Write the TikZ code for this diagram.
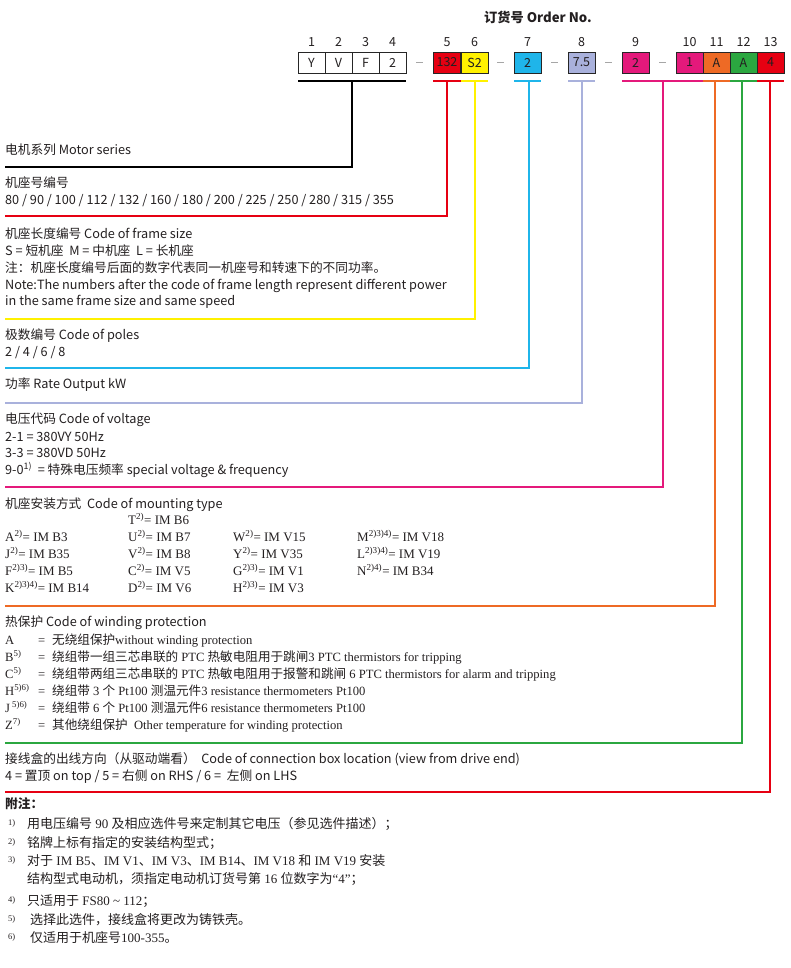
\documentclass[tikz,border=0pt]{standalone}
\usepackage{fontspec}
\setmainfont{Liberation Serif}
\newfontfamily\cjk{Noto Sans CJK SC}
\definecolor{cred}{HTML}{E60012}
\definecolor{cyel}{HTML}{FFF100}
\definecolor{cblue}{HTML}{1FB5EA}
\definecolor{clav}{HTML}{A9B1DC}
\definecolor{cpink}{HTML}{E4197B}
\definecolor{corange}{HTML}{EE6A25}
\definecolor{cgreen}{HTML}{2BA740}
\definecolor{ctext}{HTML}{231F20}
\newcommand{\sps}[1]{\textsuperscript{#1}}
\begin{document}
\begin{tikzpicture}[x=1pt,y=-1pt,
  txt/.style={anchor=mid west, inner sep=0pt, text=ctext, font=\cjk\fontsize{12.7}{14}\selectfont},
  ser/.style={anchor=mid west, inner sep=0pt, text=ctext, font=\fontsize{13}{15}\selectfont},
  wser/.style={anchor=mid west, inner sep=0pt, text=ctext, font=\fontsize{12.6}{15}\selectfont},
  cell/.style={draw=black!85, line width=0.9pt, minimum width=27pt, minimum height=21pt, inner sep=0pt, text=ctext, font=\cjk\fontsize{12.5}{14}\selectfont},
  num/.style={inner sep=0pt, text=ctext, font=\cjk\fontsize{12.5}{14}\selectfont},
  lead/.style={line width=1.8pt, line join=miter},
  gap/.style={draw=black!35, line width=0.8pt},
  notenum/.style={anchor=mid west, inner sep=0pt, text=ctext, font=\fontsize{8.5}{9}\selectfont},
]
\useasboundingbox (0,0) rectangle (790,968);

% title
\node[font=\cjk\bfseries\fontsize{13.2}{15}\selectfont, text=ctext, inner sep=0pt] (title) at (538,17) {订货号 Order No.};

% cells
\node[cell] (c1) at (311.5,62.5) {Y};
\node[cell] (c2) at (338.5,62.5) {V};
\node[cell] (c3) at (365.5,62.5) {F};
\node[cell] (c4) at (392.5,62.5) {2};
\node[cell, fill=cred] (c5) at (447,62.5) {132};
\node[cell, fill=cyel] (c6) at (474.5,62.5) {S2};
\node[cell, fill=cblue] (c7) at (527.5,62.5) {2};
\node[cell, fill=clav] (c8) at (581.5,62.5) {7.5};
\node[cell, fill=cpink] (c9) at (635.5,62.5) {2};
\node[cell, fill=cpink] (c10) at (689.5,62.5) {1};
\node[cell, fill=corange] (c11) at (716.5,62.5) {A};
\node[cell, fill=cgreen] (c12) at (743.5,62.5) {A};
\node[cell, fill=cred] (c13) at (770.5,62.5) {4};

% numbers
\foreach \n/\x in {1/311.5,2/338.5,3/365.5,4/392.5,5/447,6/474.5,7/527.5,8/581.5,9/635.5,10/689.5,11/716.5,12/743.5,13/770.5}
  \node[num] (n\n) at (\x,42) {\n};

% dashes between groups
\draw[gap] ([xshift=10pt]c4.east) -- ([xshift=17pt]c4.east);
\draw[gap] ([xshift=9pt]c6.east) -- ([xshift=16pt]c6.east);
\draw[gap] ([xshift=10pt]c7.east) -- ([xshift=17pt]c7.east);
\draw[gap] ([xshift=10pt]c8.east) -- ([xshift=17pt]c8.east);
\draw[gap] ([xshift=10pt]c9.east) -- ([xshift=17pt]c9.east);

% bracket coordinates
\coordinate (kL) at (298,81);  \coordinate (kR) at (406,81);  \coordinate (kV) at (352,81);  \coordinate (kE) at (5,167);
\coordinate (aL) at (433,81);  \coordinate (aR) at (461,81);  \coordinate (aV) at (447,81);  \coordinate (aE) at (5,216);
\coordinate (bL) at (461,81);  \coordinate (bR) at (488,81);  \coordinate (bV) at (475,81);  \coordinate (bE) at (5,319);
\coordinate (dL) at (514,81);  \coordinate (dR) at (541,81);  \coordinate (dV) at (529,81);  \coordinate (dE) at (5,368);
\coordinate (eL) at (568,81);  \coordinate (eR) at (595,81);  \coordinate (eV) at (582,81);  \coordinate (eE) at (5,403);
\coordinate (fL) at (622,81);  \coordinate (fR) at (703,81);  \coordinate (fV) at (663,81);  \coordinate (fE) at (5,487);
\coordinate (gL) at (703,81);  \coordinate (gR) at (730,81);  \coordinate (gV) at (715,81);  \coordinate (gE) at (5,606);
\coordinate (hL) at (730,81);  \coordinate (hR) at (757,81);  \coordinate (hV) at (742,81);  \coordinate (hE) at (5,743);
\coordinate (iL) at (757,81);  \coordinate (iR) at (784,81);  \coordinate (iV) at (770,81);  \coordinate (iE) at (5,792);

\draw[lead, black, line width=2.2pt] (kL) -- (kR); \draw[lead, black, line width=2.2pt] (kV) |- (kE);
\draw[lead, cred] (aL) -- (aR); \draw[lead, cred] (aV) |- (aE);
\draw[lead, cyel] (bL) -- (bR); \draw[lead, cyel] (bV) |- (bE);
\draw[lead, cblue] (dL) -- (dR); \draw[lead, cblue] (dV) |- (dE);
\draw[lead, clav] (eL) -- (eR); \draw[lead, clav] (eV) |- (eE);
\draw[lead, cpink] (fL) -- (fR); \draw[lead, cpink] (fV) |- (fE);
\draw[lead, corange] (gL) -- (gR); \draw[lead, corange] (gV) |- (gE);
\draw[lead, cgreen] (hL) -- (hR); \draw[lead, cgreen] (hV) |- (hE);
\draw[lead, cred] (iL) -- (iR); \draw[lead, cred] (iV) |- (iE);

% sections
\node[txt] (t1) at (5,152) {电机系列 Motor series};
\node[txt] (t2) at (5,185) {机座号编号};
\node[txt] (t3) at (5,202) {80 / 90 / 100 / 112 / 132 / 160 / 180 / 200 / 225 / 250 / 280 / 315 / 355};
\node[txt] (t4) at (5,236) {机座长度编号 Code of frame size};
\node[txt] (t5) at (5,253) {S = 短机座\ \ M = 中机座\ \ L = 长机座};
\node[txt] (t6) at (5,270) {注：机座长度编号后面的数字代表同一机座号和转速下的不同功率。};
\node[txt] (t7) at (5,287) {Note:The numbers after the code of frame length represent different power};
\node[txt] (t8) at (5,303) {in the same frame size and same speed};
\node[txt] (t9) at (5,337) {极数编号 Code of poles};
\node[txt] (t10) at (5,354) {2 / 4 / 6 / 8};
\node[txt] (t11) at (5,386) {功率 Rate Output kW};
\node[txt] (t12) at (5,421) {电压代码 Code of voltage};
\node[txt] (t13) at (5,439) {2-1 = 380VY 50Hz};
\node[txt] (t14) at (5,455) {3-3 = 380VD 50Hz};
\node[txt] (t15) at (5,472) {9-0\sps{1)}\ \ = 特殊电压频率 special voltage \& frequency};
\node[txt] (t16) at (5,506) {机座安装方式\ \ Code of mounting type};

% mounting types
\node[ser] (m0) at (128,522) {T\sps{2)}= IM B6};
\node[ser] (m1) at (5,539) {A\sps{2)}= IM B3};
\node[ser] (m2) at (128,539) {U\sps{2)}= IM B7};
\node[ser] (m3) at (233,539) {W\sps{2)}= IM V15};
\node[ser] (m4) at (357,539) {M\sps{2)3)4)}= IM V18};
\node[ser] (m5) at (5,556) {J\sps{2)}= IM B35};
\node[ser] (m6) at (128,556) {V\sps{2)}= IM B8};
\node[ser] (m7) at (233,556) {Y\sps{2)}= IM V35};
\node[ser] (m8) at (357,556) {L\sps{2)3)4)}= IM V19};
\node[ser] (m9) at (5,573) {F\sps{2)3)}= IM B5};
\node[ser] (m10) at (128,573) {C\sps{2)}= IM V5};
\node[ser] (m11) at (233,573) {G\sps{2)3)}= IM V1};
\node[ser] (m12) at (357,573) {N\sps{2)4)}= IM B34};
\node[ser] (m13) at (5,590) {K\sps{2)3)4)}= IM B14};
\node[ser] (m14) at (128,590) {D\sps{2)}= IM V6};
\node[ser] (m15) at (233,590) {H\sps{2)3)}= IM V3};

% winding protection
\node[txt] (w0) at (5,624) {热保护 Code of winding protection};
\foreach \k/\y/\lab in {1/642/A, 2/659/B\sps{5)}, 3/676/C\sps{5)}, 4/693/H\sps{5)6)}, 5/710/J\,\sps{5)6)}, 6/727/Z\sps{7)}}{
  \node[wser] (wl\k) at (5,\y) {\lab};
  \node[wser] (we\k) at (38,\y) {=};
}
\node[wser] (wt1) at (52,642) {{\cjk 无绕组保护}without winding protection};
\node[wser] (wt2) at (52,659) {{\cjk 绕组带一组三芯串联的} PTC {\cjk 热敏电阻用于跳闸}3 PTC thermistors for tripping};
\node[wser] (wt3) at (52,676) {{\cjk 绕组带两组三芯串联的} PTC {\cjk 热敏电阻用于报警和跳闸} 6 PTC thermistors for alarm and tripping};
\node[wser] (wt4) at (52,693) {{\cjk 绕组带} 3 {\cjk 个} Pt100 {\cjk 测温元件}3 resistance thermometers Pt100};
\node[wser] (wt5) at (52,710) {{\cjk 绕组带} 6 {\cjk 个} Pt100 {\cjk 测温元件}6 resistance thermometers Pt100};
\node[wser] (wt6) at (52,727) {{\cjk 其他绕组保护}\ \ Other temperature for winding protection};

% connection box
\node[txt] (x1) at (5,761) {接线盒的出线方向（从驱动端看）\ \ Code of connection box location (view from drive end)};
\node[txt] (x2) at (5,778) {4 = 置顶 on top / 5 = 右侧 on RHS / 6 = \ 左侧 on LHS};

% notes
\node[txt, font=\cjk\bfseries\fontsize{12.7}{14}\selectfont] (nt) at (5,806) {附注：};
\node[notenum] (q1) at (8,823) {1)};
\node[ser] (p1) at (27,826) {{\cjk 用电压编号} 90 {\cjk 及相应选件号来定制其它电压（参见选件描述）；}};
\node[notenum] (q2) at (8,842) {2)};
\node[ser] (p2) at (27,845) {{\cjk 铭牌上标有指定的安装结构型式；}};
\node[notenum] (q3) at (8,860) {3)};
\node[ser] (p3) at (27,863) {{\cjk 对于} IM B5{\cjk 、}IM V1{\cjk 、}IM V3{\cjk 、}IM B14{\cjk 、}IM V18 {\cjk 和} IM V19 {\cjk 安装}};
\node[ser] (p3b) at (27,881) {{\cjk 结构型式电动机，须指定电动机订货号第} 16 {\cjk 位数字为}“4”{\cjk ；}};
\node[notenum] (q4) at (8,900) {4)};
\node[ser] (p4) at (27,903) {{\cjk 只适用于} FS80 \textasciitilde{} 112{\cjk ；}};
\node[notenum] (q5) at (8,919) {5)};
\node[ser] (p5) at (30,922) {{\cjk 选择此选件，接线盒将更改为铸铁壳。}};
\node[notenum] (q6) at (8,937) {6)};
\node[ser] (p6) at (30,940) {{\cjk 仅适用于机座号}100-355{\cjk 。}};
\end{tikzpicture}
\end{document}
